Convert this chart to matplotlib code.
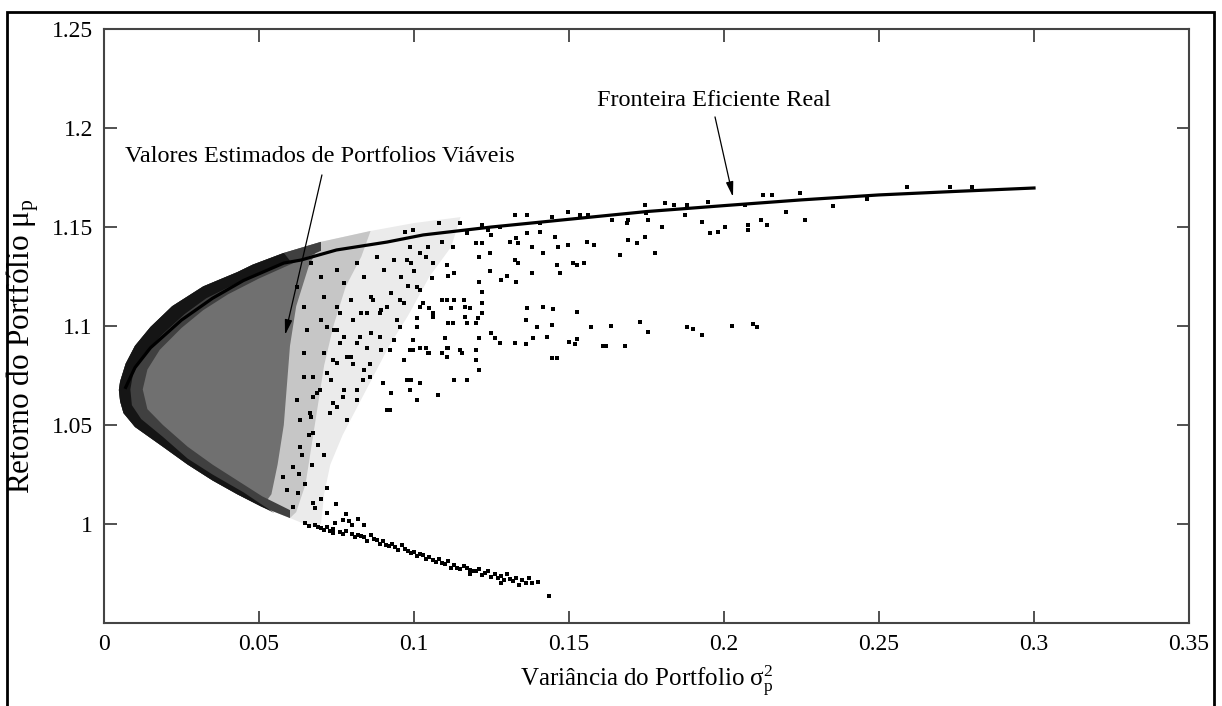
import matplotlib
matplotlib.use("Agg")
import matplotlib.pyplot as plt
from matplotlib.patches import Rectangle

plt.rcParams['font.family'] = ['Liberation Serif', 'DejaVu Serif']
plt.rcParams['mathtext.fontset'] = 'stix'

# curva da fronteira eficiente real
frontier_x = [0.007, 0.010, 0.015, 0.025, 0.035, 0.045, 0.058, 0.0635, 0.075, 0.0913,
              0.103, 0.125, 0.15, 0.175, 0.2, 0.225, 0.25, 0.275, 0.3]
frontier_y = [1.069, 1.079, 1.089, 1.103, 1.114, 1.123, 1.1318, 1.1333, 1.1384, 1.1424,
              1.146, 1.150, 1.1539, 1.1578, 1.1608, 1.1637, 1.1662, 1.168, 1.1697]

# borda externa da nuvem de portfolios, a partir do vertice
upper_x = [0.0048, 0.0052, 0.007, 0.010, 0.015, 0.022, 0.032, 0.043, 0.048, 0.058, 0.070, 0.086,
           0.100, 0.115]
upper_y = [1.0677, 1.072, 1.081, 1.090, 1.0995, 1.110, 1.1200, 1.1272, 1.131, 1.1369, 1.1425,
           1.148, 1.152, 1.155]
lower_x = [0.0048, 0.0052, 0.0063, 0.010, 0.019, 0.027, 0.035, 0.043, 0.051, 0.060, 0.067]
lower_y = [1.0677, 1.062, 1.056, 1.049, 1.039, 1.030, 1.022, 1.015, 1.0086, 1.003, 0.9985]

# limites internos das zonas de densidade (de cima para baixo)
halo_in_x = [0.112, 0.105, 0.098, 0.092, 0.087, 0.082, 0.077, 0.073, 0.071, 0.070]
halo_in_y = [1.140, 1.125, 1.105, 1.090, 1.075, 1.060, 1.045, 1.030, 1.015, 1.000]
mid_in_x = [0.083, 0.078, 0.074, 0.071, 0.069, 0.067, 0.065, 0.062]
mid_in_y = [1.135, 1.120, 1.100, 1.080, 1.060, 1.040, 1.020, 1.006]
core_in_x = [0.066, 0.062, 0.060, 0.059, 0.058, 0.056, 0.054]
core_in_y = [1.130, 1.110, 1.090, 1.070, 1.050, 1.030, 1.015]
soft_in_x = [0.070, 0.060, 0.050, 0.040, 0.032, 0.025, 0.018, 0.014, 0.0125, 0.014, 0.019,
             0.027, 0.035, 0.043, 0.051, 0.060]
soft_in_y = [1.138, 1.131, 1.124, 1.116, 1.108, 1.099, 1.088, 1.078, 1.068, 1.058, 1.050,
             1.039, 1.030, 1.022, 1.014, 1.007]
dark_in_x = [0.060, 0.050, 0.042, 0.033, 0.026, 0.019, 0.013, 0.0095, 0.0085, 0.009, 0.012,
             0.019, 0.027, 0.035, 0.045, 0.055]
dark_in_y = [1.133, 1.127, 1.121, 1.114, 1.106, 1.096, 1.086, 1.077, 1.068, 1.060, 1.053,
             1.044, 1.033, 1.025, 1.016, 1.0055]

# pontos isolados visiveis
dots_x = [0.188, 0.190, 0.193, 0.2026, 0.2094, 0.2106, 0.173, 0.1755, 0.1635, 0.157, 0.161, 0.162,
          0.168, 0.152, 0.150, 0.1525, 0.1525, 0.1449, 0.1416, 0.1445, 0.1396, 0.143, 0.1385, 0.136,
          0.1364, 0.136, 0.1326, 0.1277, 0.126, 0.125, 0.121, 0.120, 0.1445, 0.146,
          0.164, 0.169, 0.175, 0.1755, 0.180, 0.1745, 0.172, 0.169, 0.1777, 0.1665, 0.193, 0.1955,
          0.198, 0.2003, 0.2077, 0.2077, 0.212, 0.214, 0.220, 0.226, 0.1874, 0.188, 0.1948, 0.181,
          0.184, 0.1745, 0.2126, 0.2155, 0.2245, 0.2068, 0.259, 0.273, 0.280, 0.235, 0.246,
          0.1687, 0.156, 0.1535, 0.1497, 0.1445, 0.1406, 0.1364, 0.1326, 0.1277, 0.122, 0.124, 0.125,
          0.120, 0.115, 0.108, 0.117, 0.1455, 0.1497, 0.1465, 0.1558, 0.158, 0.1416, 0.138, 0.1335,
          0.1326, 0.1335, 0.1513, 0.1525, 0.155, 0.146, 0.147, 0.138, 0.133, 0.128, 0.130, 0.1245,
          0.121, 0.1245, 0.121, 0.122, 0.116, 0.112, 0.118, 0.117, 0.1206, 0.113, 0.109, 0.106,
          0.103, 0.105, 0.101, 0.111, 0.110, 0.111, 0.109, 0.1155, 0.102, 0.0987, 0.1045, 0.1106,
          0.106, 0.104, 0.111, 0.113, 0.1058, 0.102, 0.098, 0.100, 0.0977, 0.1126, 0.109, 0.1045,
          0.102, 0.0987, 0.0997, 0.097, 0.122, 0.131, 0.133, 0.1364, 0.1406,
          0.089, 0.0955, 0.0997, 0.105, 0.1106, 0.115, 0.120, 0.121, 0.117, 0.113, 0.1077, 0.102,
          0.0987, 0.0923, 0.0977, 0.101, 0.0858, 0.0835, 0.0816, 0.090, 0.0784, 0.0729, 0.0739,
          0.0771, 0.0803, 0.0858, 0.0784, 0.0848, 0.0826, 0.089, 0.0923, 0.0997, 0.104, 0.1106,
          0.1126, 0.1165, 0.122, 0.120, 0.106, 0.102, 0.1106, 0.1165, 0.122, 0.0955, 0.0913,
          0.0868, 0.0848, 0.0803, 0.0761, 0.0752, 0.072, 0.0761, 0.0739, 0.072, 0.0674, 0.0697,
          0.0674, 0.0665, 0.0632, 0.0674, 0.0632, 0.061, 0.0577, 0.059, 0.0626, 0.0674, 0.061,
          0.072, 0.0771, 0.080, 0.0739, 0.0745, 0.079, 0.084,
          0.0668, 0.070, 0.0752, 0.0774, 0.0816, 0.0839, 0.0881, 0.0903, 0.0935, 0.0958, 0.099,
          0.101, 0.071, 0.0752, 0.0797, 0.0829, 0.0861, 0.0894, 0.0926, 0.0968, 0.0945, 0.101,
          0.070, 0.0742, 0.0774, 0.0816, 0.0861, 0.0894, 0.0935, 0.071, 0.0752, 0.0797, 0.0839,
          0.0968, 0.099, 0.0926, 0.0732, 0.0774, 0.0687, 0.0752, 0.0816, 0.0913, 0.0668, 0.0623,
          0.0645, 0.0645, 0.0655, 0.0645, 0.0623,
          0.066, 0.069, 0.064, 0.067, 0.071, 0.063, 0.065, 0.070, 0.072, 0.068, 0.075, 0.078, 0.082]
dots_y = [1.0995, 1.0985, 1.0955, 1.100, 1.101, 1.0995, 1.102, 1.097, 1.100, 1.0995, 1.090, 1.090,
          1.090, 1.091, 1.092, 1.0935, 1.107, 1.1086, 1.1096, 1.1005, 1.0995, 1.0944, 1.094, 1.103,
          1.109, 1.091, 1.0914, 1.0914, 1.094, 1.0965, 1.094, 1.088, 1.084, 1.084,
          1.1535, 1.1535, 1.157, 1.1535, 1.150, 1.145, 1.142, 1.1435, 1.137, 1.136, 1.1525, 1.147,
          1.1475, 1.150, 1.151, 1.1485, 1.1535, 1.151, 1.1576, 1.1535, 1.156, 1.161, 1.1626, 1.162,
          1.161, 1.161, 1.166, 1.166, 1.167, 1.161, 1.170, 1.170, 1.170, 1.1606, 1.164,
          1.152, 1.156, 1.156, 1.1576, 1.155, 1.152, 1.156, 1.156, 1.150, 1.151, 1.1485, 1.146,
          1.142, 1.152, 1.152, 1.147, 1.145, 1.141, 1.140, 1.1425, 1.141, 1.137, 1.140, 1.142,
          1.1333, 1.132, 1.132, 1.131, 1.132, 1.131, 1.127, 1.127, 1.122, 1.123, 1.125, 1.128,
          1.135, 1.137, 1.122, 1.117, 1.113, 1.109, 1.109, 1.1015, 1.104, 1.113, 1.113, 1.1066,
          1.1116, 1.109, 1.104, 1.1015, 1.094, 1.089, 1.0864, 1.0864, 1.089, 1.088, 1.0864, 1.131,
          1.132, 1.135, 1.125, 1.127, 1.124, 1.118, 1.120, 1.128, 1.1333, 1.140, 1.1425, 1.140,
          1.137, 1.140, 1.1485, 1.1475, 1.142, 1.1425, 1.1445, 1.147, 1.1475,
          1.1066, 1.0995, 1.088, 1.0864, 1.0843, 1.088, 1.083, 1.078, 1.0727, 1.0727, 1.065, 1.071,
          1.0677, 1.0576, 1.0727, 1.0626, 1.0742, 1.0727, 1.0677, 1.071, 1.0525, 1.056, 1.061,
          1.064, 1.081, 1.081, 1.0843, 1.089, 1.0944, 1.0944, 1.088, 1.093, 1.089, 1.089,
          1.1015, 1.1045, 1.1066, 1.1015, 1.1045, 1.1096, 1.113, 1.1096, 1.1116, 1.113, 1.1096,
          1.113, 1.1066, 1.103, 1.1066, 1.098, 1.0995, 1.0914, 1.083, 1.0763, 1.0742, 1.0677,
          1.0641, 1.056, 1.0525, 1.046, 1.039, 1.0288, 1.0237, 1.0172, 1.0157, 1.0106, 1.0086,
          1.0056, 1.002, 0.9995, 0.9955, 1.0005, 1.0015, 0.9995,
          1.1318, 1.1247, 1.1283, 1.1217, 1.1318, 1.1247, 1.1348, 1.1283, 1.1333, 1.1247, 1.1318,
          1.1197, 1.1146, 1.1096, 1.1131, 1.1066, 1.1146, 1.1081, 1.1167, 1.1116, 1.103, 1.0995,
          1.103, 1.098, 1.0944, 1.0914, 1.0965, 1.088, 1.093, 1.0864, 1.0813, 1.0843, 1.0778,
          1.0828, 1.0727, 1.0662, 1.0727, 1.0677, 1.0662, 1.0591, 1.0626, 1.0576, 1.054, 1.0626,
          1.0742, 1.0864, 1.098, 1.1096, 1.1197,
          1.045, 1.040, 1.035, 1.030, 1.035, 1.025, 1.020, 1.0125, 1.018, 1.008, 1.010, 1.005, 1.0025]

# cauda inferior da nuvem
tail_x = [0.065, 0.068, 0.07, 0.072, 0.074, 0.076, 0.078, 0.08, 0.082, 0.084, 0.085, 0.087, 0.089,
          0.09, 0.092, 0.094, 0.095, 0.097, 0.099, 0.10, 0.101, 0.103, 0.104, 0.105, 0.107, 0.108,
          0.11, 0.111, 0.113, 0.114, 0.116, 0.118, 0.119, 0.121, 0.123, 0.124, 0.126, 0.128, 0.13,
          0.131, 0.133, 0.135, 0.137, 0.138, 0.14, 0.1435, 0.128, 0.134, 0.118, 0.112, 0.096, 0.086,
          0.066, 0.069, 0.071, 0.073, 0.077, 0.081, 0.083, 0.088, 0.091, 0.093, 0.098, 0.102, 0.106,
          0.109, 0.115, 0.117, 0.120, 0.122, 0.125, 0.127, 0.129, 0.132, 0.136]
tail_y = [1.0005, 0.9995, 0.998, 0.9985, 0.9975, 0.996, 0.9965, 0.995, 0.9945, 0.9935, 0.9915,
          0.9925, 0.990, 0.9915, 0.989, 0.9885, 0.987, 0.9875, 0.9855, 0.986, 0.984, 0.9845, 0.9825,
          0.9835, 0.981, 0.9825, 0.980, 0.9815, 0.9795, 0.978, 0.979, 0.977, 0.9765, 0.9775, 0.975,
          0.976, 0.9745, 0.9735, 0.9745, 0.972, 0.9725, 0.9715, 0.9725, 0.970, 0.9705, 0.9636,
          0.970, 0.969, 0.9745, 0.978, 0.9895, 0.9945,
          0.9990, 0.9985, 0.9970, 0.9965, 0.9950, 0.9935, 0.9940, 0.9920, 0.9895, 0.9900, 0.9865,
          0.9850, 0.9820, 0.9805, 0.9775, 0.9780, 0.9760, 0.9740, 0.9730, 0.9725, 0.9715, 0.9710,
          0.9700]

xticks = [0, 0.05, 0.1, 0.15, 0.2, 0.25, 0.3, 0.35]
xtick_labels = ['0', '0.05', '0.1', '0.15', '0.2', '0.25', '0.3', '0.35']
yticks = [1.0, 1.05, 1.1, 1.15, 1.2, 1.25]
ytick_labels = ['1', '1.05', '1.1', '1.15', '1.2', '1.25']


def zone(x_end, inner_x, inner_y):
    # borda superior ate x_end, depois o limite interno, volta pela borda inferior
    ux = [x for x in upper_x if x <= x_end]
    uy = upper_y[:len(ux)]
    lx = [x for x in lower_x if x <= inner_x[-1] + 1e-9]
    ly = lower_y[:len(lx)]
    return ux + inner_x + lx[::-1], uy + inner_y + ly[::-1]


fig = plt.figure(figsize=(12.22, 7.06), dpi=100)
ax = fig.add_axes([0.0851, 0.1176, 0.8879, 0.8413])

for x_end, ix, iy, col in [(0.115, halo_in_x, halo_in_y, '#ebebeb'),
                           (0.086, mid_in_x, mid_in_y, '#c6c6c6'),
                           (0.070, core_in_x, core_in_y, '#707070'),
                           (0.070, soft_in_x, soft_in_y, '#404040'),
                           (0.058, dark_in_x, dark_in_y, '#151515')]:
    px, py = zone(x_end, ix, iy)
    ax.fill(px, py, color=col, lw=0)

ax.scatter(dots_x, dots_y, s=5, marker='s', color='black', linewidths=0)
ax.scatter(tail_x, tail_y, s=5, marker='s', color='black', linewidths=0)
ax.plot(frontier_x, frontier_y, color='black', lw=2.3)

arrow = dict(arrowstyle='-|>,head_length=0.9,head_width=0.22', color='black', lw=0.9,
             shrinkA=0, shrinkB=0)
ax.text(0.0697, 1.1854, 'Valores Estimados de Portfolios Viáveis', ha='center', va='center',
        fontsize=17.5)
ax.annotate('', xy=(0.0584, 1.0955), xytext=(0.0703, 1.1763), arrowprops=arrow)
ax.text(0.1966, 1.2141, 'Fronteira Eficiente Real', ha='center', va='center', fontsize=17.5)
ax.annotate('', xy=(0.2029, 1.1652), xytext=(0.1971, 1.2056), arrowprops=arrow)

ax.set_xlim(0, 0.35)
ax.set_ylim(0.95, 1.25)
ax.set_xticks(xticks)
ax.set_xticklabels(xtick_labels)
ax.set_yticks(yticks)
ax.set_yticklabels(ytick_labels)
ax.tick_params(direction='in', length=9, width=1.2, top=True, right=True,
               labelsize=17, pad=8, colors='#333333', labelcolor='black')
for sp in ax.spines.values():
    sp.set_color('#444444')
    sp.set_linewidth(1.5)

ax.set_xlabel(r'Variância do Portfolio $\mathregular{\sigma_p^2}$', fontsize=18, labelpad=6)
ax.set_ylabel(r'Retorno do Portfólio $\mathregular{\mu_p}$', fontsize=22.5)
ax.yaxis.set_label_coords(-0.058, 0.466)

fig.patches.append(Rectangle((0.0057, -0.01), 0.9878, 0.993, transform=fig.transFigure,
                             fill=False, edgecolor='black', lw=2, clip_on=False))

fig.savefig('out.png', dpi=100)
